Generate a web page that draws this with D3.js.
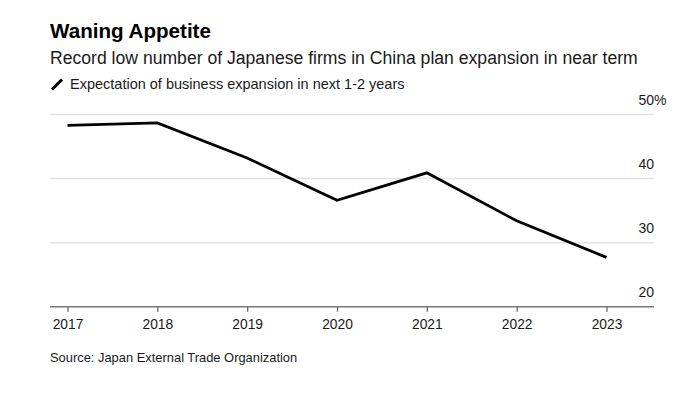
<!DOCTYPE html>
<html><head><meta charset="utf-8">
<script src="https://cdn.jsdelivr.net/npm/d3@7"></script>
<style>
body{margin:0;background:#fff;}
text{font-family:"Liberation Sans",Arial,Helvetica,sans-serif;}
</style></head>
<body><svg id="c" width="698" height="396"></svg>
<script>
const years = ["2017","2018","2019","2020","2021","2022","2023"];
const values = [48.3, 48.7, 43.2, 36.6, 40.9, 33.4, 27.7];
const yTicks = [20, 30, 40, 50];
const title = "Waning Appetite";
const subtitle = "Record low number of Japanese firms in China plan expansion in near term";
const legendLabel = "Expectation of business expansion in next 1-2 years";
const source = "Source: Japan External Trade Organization";

(function(){
const svg = d3.select("#c");
const mLeft = 50, mRight = 654, mTop = 114.5, mBottom = 306.7;

const x = d3.scalePoint().domain(years).range([67.5, 606.5]);
const y = d3.scaleLinear().domain([20, 50]).range([mBottom, mTop]);

svg.append("text").attr("x", 50).attr("y", 38).attr("font-size", 20.6).attr("font-weight", "bold").attr("fill", "#000").text(title);
svg.append("text").attr("x", 50).attr("y", 64).attr("font-size", 17.6).attr("fill", "#1a1a1a").text(subtitle);
svg.append("line").attr("x1", 52).attr("y1", 89.5).attr("x2", 62).attr("y2", 79.5).attr("stroke", "#000").attr("stroke-width", 3);
svg.append("text").attr("x", 70).attr("y", 89).attr("font-size", 14.5).attr("fill", "#1a1a1a").text(legendLabel);

svg.append("g").selectAll("line").data(yTicks.filter(d => d > 20)).join("line")
  .attr("x1", mLeft).attr("x2", mRight)
  .attr("y1", d => y(d)).attr("y2", d => y(d))
  .attr("stroke", "#e3e3e3").attr("stroke-width", 1.5);

svg.append("g").selectAll("text").data(yTicks).join("text")
  .attr("x", mRight).attr("y", d => y(d) - 9.5)
  .attr("text-anchor", "end").attr("font-size", 14).attr("fill", "#1a1a1a")
  .text(d => d);
svg.append("text").attr("x", mRight).attr("y", y(50) - 9.5).attr("font-size", 14).attr("fill", "#1a1a1a").text("%");

const xAxis = d3.axisBottom(x).tickSize(5).tickPadding(8);
const gx = svg.append("g").attr("transform", `translate(0,${mBottom})`).call(xAxis);
gx.select(".domain").remove();
gx.selectAll(".tick line").attr("stroke", "#666").attr("stroke-width", 1.3);
gx.selectAll(".tick text").attr("font-size", 13.8).attr("fill", "#1a1a1a")
  .attr("font-family", "'Liberation Sans',Arial,sans-serif");
svg.append("line").attr("x1", mLeft).attr("x2", mRight).attr("y1", mBottom).attr("y2", mBottom)
  .attr("stroke", "#777").attr("stroke-width", 1.6);

const line = d3.line().x((d, i) => x(years[i])).y(d => y(d));
svg.append("path").datum(values).attr("d", line)
  .attr("fill", "none").attr("stroke", "#000").attr("stroke-width", 2.8)
  .attr("stroke-linejoin", "miter");

svg.append("text").attr("x", 50).attr("y", 362).attr("font-size", 12.9).attr("fill", "#1a1a1a").text(source);
})();
</script></body></html>
